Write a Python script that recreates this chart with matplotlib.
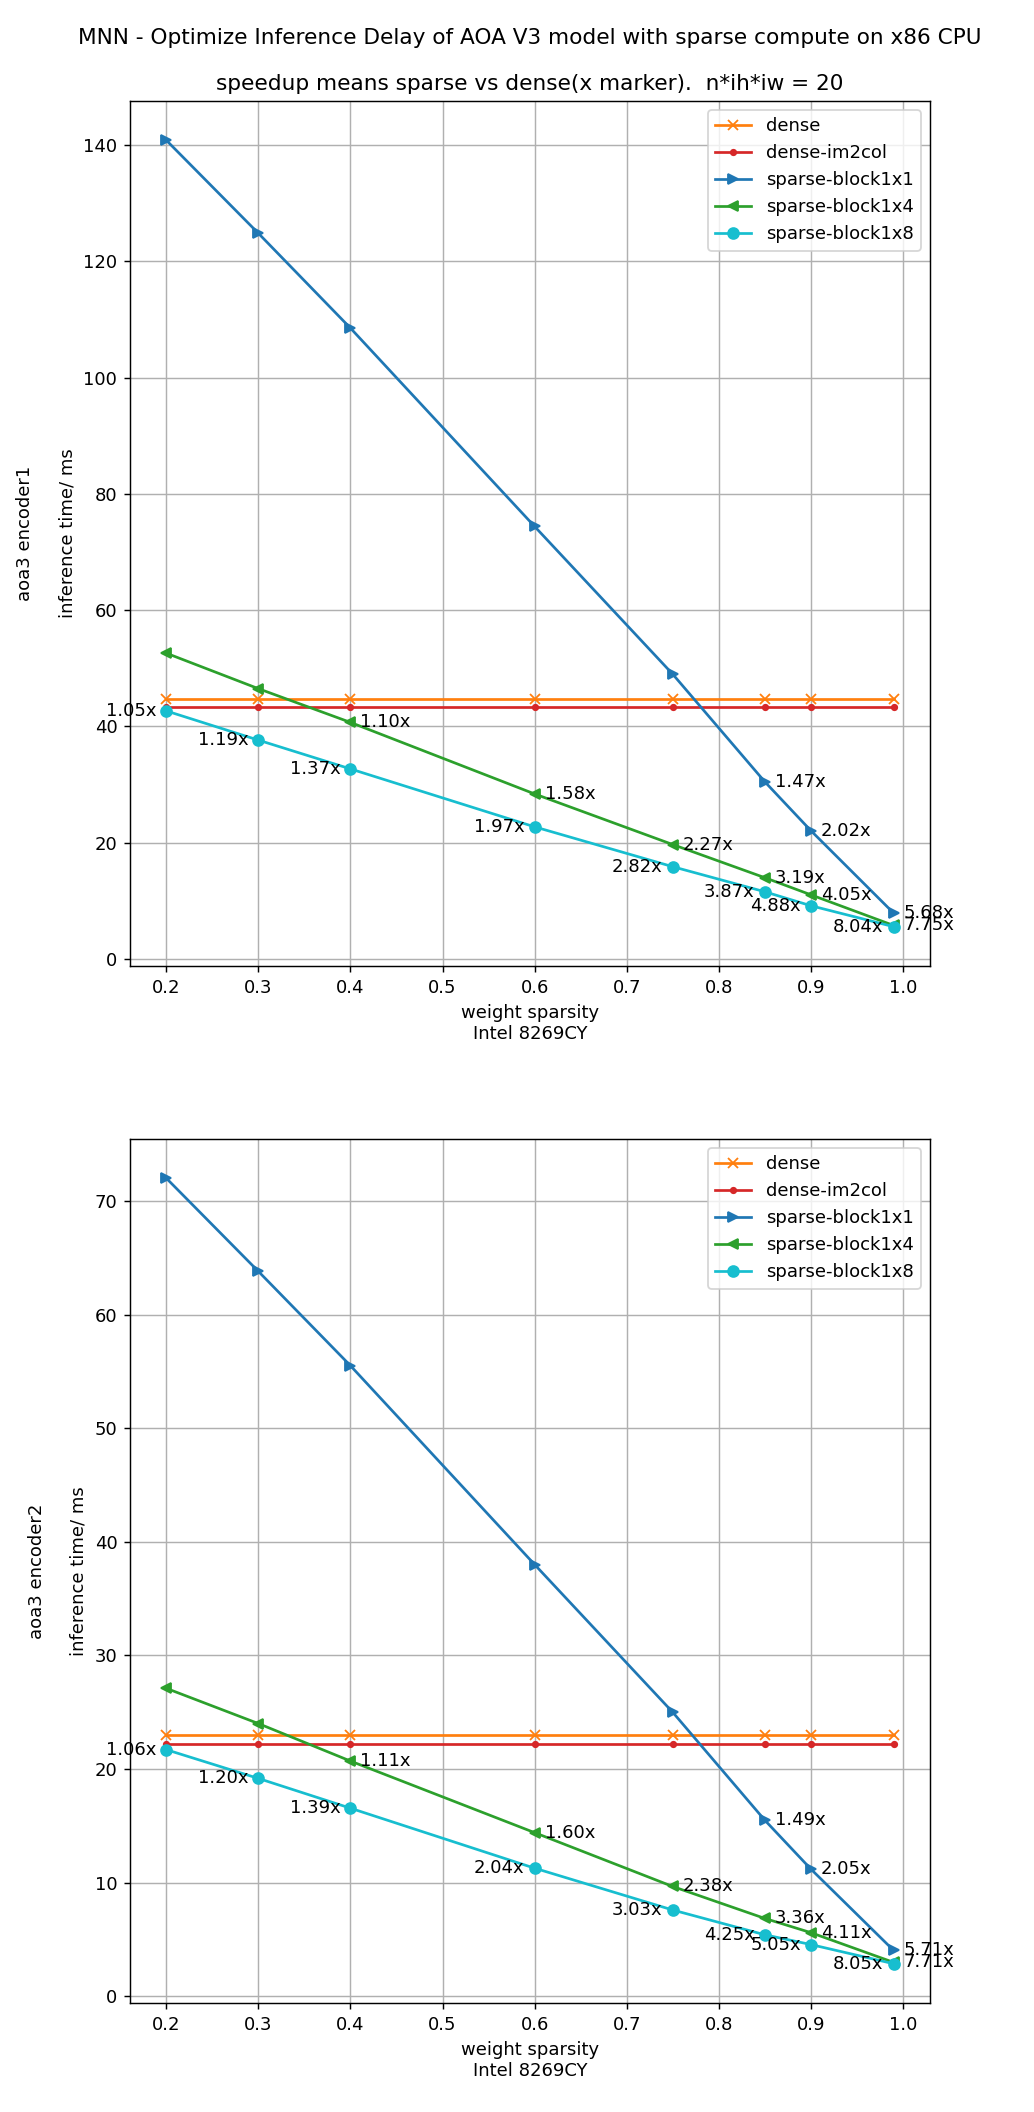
import matplotlib
matplotlib.use("Agg")
import matplotlib.pyplot as plt

sparsity = [0.2, 0.3, 0.4, 0.6, 0.75, 0.85, 0.9, 0.99]
series_names = ["dense", "dense-im2col", "sparse-block1x1", "sparse-block1x4", "sparse-block1x8"]

# encoder1 inference time (ms)
enc1_dense = [44.8, 44.8, 44.8, 44.8, 44.8, 44.8, 44.8, 44.8]
enc1_im2col = [43.4, 43.4, 43.4, 43.4, 43.4, 43.4, 43.4, 43.4]
enc1_b1x1 = [140.8, 124.8, 108.5, 74.4, 49.0, 30.5, 22.1, 7.9]
enc1_b1x4 = [52.6, 46.5, 40.7, 28.4, 19.7, 14.0, 11.06, 5.78]
enc1_b1x8 = [42.67, 37.65, 32.7, 22.74, 15.89, 11.58, 9.18, 5.57]
enc1_sp_b1x1 = [None, None, None, None, None, 1.47, 2.02, 5.68]
enc1_sp_b1x4 = [None, None, 1.10, 1.58, 2.27, 3.19, 4.05, 7.75]
enc1_sp_b1x8 = [1.05, 1.19, 1.37, 1.97, 2.82, 3.87, 4.88, 8.04]

# encoder2 inference time (ms)
enc2_dense = [23.0, 23.0, 23.0, 23.0, 23.0, 23.0, 23.0, 23.0]
enc2_im2col = [22.2, 22.2, 22.2, 22.2, 22.2, 22.2, 22.2, 22.2]
enc2_b1x1 = [72.0, 63.8, 55.5, 38.0, 25.0, 15.5, 11.2, 4.03]
enc2_b1x4 = [27.1, 24.0, 20.7, 14.4, 9.66, 6.85, 5.60, 2.98]
enc2_b1x8 = [21.7, 19.17, 16.55, 11.27, 7.59, 5.41, 4.55, 2.86]
enc2_sp_b1x1 = [None, None, None, None, None, 1.49, 2.05, 5.71]
enc2_sp_b1x4 = [None, None, 1.11, 1.60, 2.38, 3.36, 4.11, 7.71]
enc2_sp_b1x8 = [1.06, 1.20, 1.39, 2.04, 3.03, 4.25, 5.05, 8.05]

ylabels = ["aoa3 encoder1\n\ninference time/ ms", "aoa3 encoder2\n\ninference time/ ms"]
xlabel = "weight sparsity\nIntel 8269CY"
main_title = "MNN - Optimize Inference Delay of AOA V3 model with sparse compute on x86 CPU"
subtitle = "speedup means sparse vs dense(x marker).  n*ih*iw = 20"

colors = ["#ff7f0e", "#d62728", "#1f77b4", "#2ca02c", "#17becf"]
markers = ["x", ".", ">", "<", "o"]

W, H, DPI = 1034, 2112, 130
fig = plt.figure(figsize=(W / DPI, H / DPI), dpi=DPI)

ax1 = fig.add_axes([130 / W, 1 - 966 / H, 800 / W, 865 / H])
ax2 = fig.add_axes([130 / W, 1 - 2003 / H, 800 / W, 864 / H])

datasets = [
    (ax1, [enc1_dense, enc1_im2col, enc1_b1x1, enc1_b1x4, enc1_b1x8],
     [enc1_sp_b1x1, enc1_sp_b1x4, enc1_sp_b1x8], ylabels[0]),
    (ax2, [enc2_dense, enc2_im2col, enc2_b1x1, enc2_b1x4, enc2_b1x8],
     [enc2_sp_b1x1, enc2_sp_b1x4, enc2_sp_b1x8], ylabels[1]),
]

for ax, series, speeds, ylab in datasets:
    for name, ys, c, m in zip(series_names, series, colors, markers):
        ax.plot(sparsity, ys, color=c, marker=m, label=name)
    # speedup annotations
    for ys, sp, side in zip(series[2:], speeds, [1, 1, -1]):
        for x, y, s in zip(sparsity, ys, sp):
            if s is None:
                continue
            ax.annotate(f"{s:.2f}x", (x, y), xytext=(5.5 * side, 0),
                        textcoords="offset points",
                        ha="left" if side > 0 else "right", va="center",
                        fontsize=10)
    ax.grid(True)
    ax.legend(loc="upper right")
    ax.set_xlabel(xlabel)
    ax.set_ylabel(ylab, multialignment="center")

ax1.set_title(main_title + "\n\n" + subtitle, fontsize=12)

fig.savefig("out.png", dpi=DPI)
